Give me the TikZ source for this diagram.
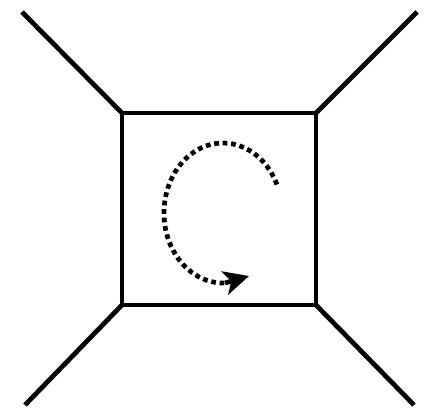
\documentclass[tikz,border=0pt]{standalone}
\usetikzlibrary{arrows.meta}
\begin{document}
\begin{tikzpicture}[line width=2.7pt]
  \useasboundingbox (0,0) rectangle (8.54,8.22);
  % 正方形顶点
  \coordinate (A) at (2.44,5.96);
  \coordinate (B) at (6.32,5.96);
  \coordinate (C) at (6.32,2.12);
  \coordinate (D) at (2.44,2.12);
  % 正方形
  \draw (A) -- (B) -- (C) -- (D) -- cycle;
  % 四条外线
  \draw (A) -- (0.44,7.98);
  \draw (B) -- (8.34,7.98);
  \draw (C) -- (8.28,0.12);
  \draw (D) -- (0.50,0.12);
  % 虚线旋转箭头
  \draw[dash pattern=on 0.095cm off 0.075cm]
    (4.46,3.96) ++(24:1.18 and 1.4) arc[start angle=24, end angle=272, x radius=1.18, y radius=1.4]
    coordinate (E);
  \draw[-{Stealth[length=0.5cm,width=0.48cm,inset=0.13cm]}] (E) -- (4.98,2.70);
\end{tikzpicture}
\end{document}
